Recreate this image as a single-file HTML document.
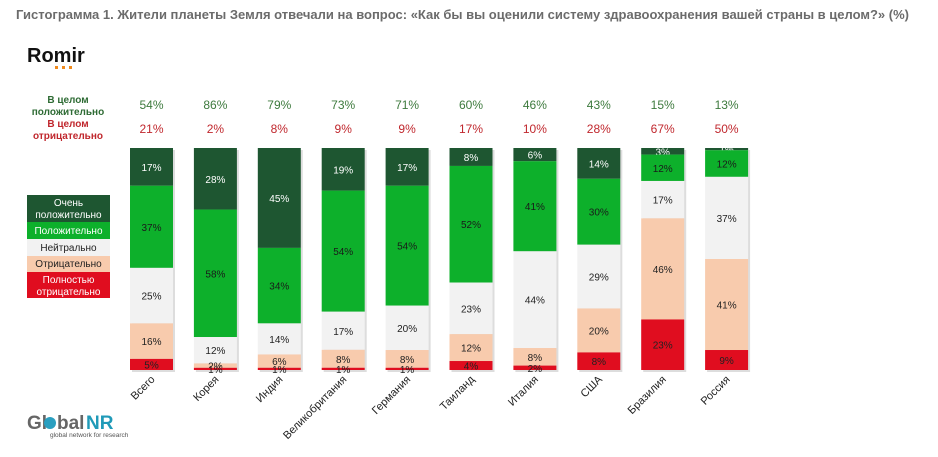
<!DOCTYPE html>
<html><head><meta charset="utf-8">
<style>
body{margin:0;background:#fff;font-family:"Liberation Sans",sans-serif;}
#wrap{position:relative;width:938px;height:457px;overflow:hidden;background:#fff;}
.title{position:absolute;left:16px;top:7px;font-size:13px;font-weight:bold;color:#6b6b6b;white-space:nowrap;}
</style></head>
<body>
<div id="wrap">
<div class="title">Гистограмма 1. Жители планеты Земля отвечали на вопрос: «Как бы вы оценили систему здравоохранения вашей страны в целом?» (%)</div>
<svg id="svg" width="938" height="457" style="position:absolute;left:0;top:0">
  <g>
    <text x="27" y="62" font-size="20" font-weight="bold" fill="#111" font-family="Liberation Sans">Romir</text>
    <rect x="55" y="66" width="3" height="3" fill="#f08a1c"/><rect x="62" y="66" width="3" height="3" fill="#f08a1c"/><rect x="69" y="66" width="3" height="3" fill="#f08a1c"/>
  </g>
  <g font-size="10" font-weight="bold" text-anchor="middle">
    <text x="68" y="103" fill="#2e6b34">В целом</text>
    <text x="68" y="115" fill="#2e6b34">положительно</text>
    <text x="68" y="127" fill="#c0272d">В целом</text>
    <text x="68" y="139" fill="#c0272d">отрицательно</text>
  </g>
  <g font-size="10" text-anchor="middle">
    <rect x="27" y="195" width="83" height="27" fill="#1e5631"/>
    <text x="68.5" y="206" fill="#fff">Очень</text><text x="68.5" y="218" fill="#fff">положительно</text>
    <rect x="27" y="222" width="83" height="17" fill="#0db02b"/>
    <text x="68.5" y="234" fill="#fff">Положительно</text>
    <rect x="27" y="239" width="83" height="17" fill="#f2f2f2"/>
    <text x="68.5" y="251" fill="#222">Нейтрально</text>
    <rect x="27" y="256" width="83" height="16" fill="#f8cbad"/>
    <text x="68.5" y="267" fill="#222">Отрицательно</text>
    <rect x="27" y="272" width="83" height="26" fill="#e00d1f"/>
    <text x="68.5" y="283" fill="#fff">Полностью</text><text x="68.5" y="295" fill="#fff">отрицательно</text>
  </g>
  <g id="bars"></g>
  <g>
    <text x="27" y="429" font-size="19" font-weight="bold" fill="#666">Gl</text>
    <circle cx="50" cy="423" r="6" fill="#2a9fc0"/>
    <text x="57" y="429" font-size="19" font-weight="bold" fill="#666">bal</text>
    <text x="86" y="429" font-size="19" font-weight="bold" fill="#1f9ab8">NR</text>
    <text x="50" y="437" font-size="6.5" fill="#555">global network for research</text>
  </g>
</svg>
</div>
<script>
const categories=["Всего","Корея","Индия","Великобритания","Германия","Таиланд","Италия","США","Бразилия","Россия"];
const veryPositive=[17,28,45,19,17,8,6,14,3,1];
const positive=[37,58,34,54,54,52,41,30,12,12];
const neutral=[25,12,14,17,20,23,44,29,17,37];
const negative=[16,2,6,8,8,12,8,20,46,41];
const veryNegative=[5,1,1,1,1,4,2,8,23,9];
const totalPositive=[54,86,79,73,71,60,46,43,15,13];
const totalNegative=[21,2,8,9,9,17,10,28,67,50];

const NS="http://www.w3.org/2000/svg";
const barsG=document.getElementById('bars');
const x0=130,step=63.9,bw=43,barTop=148,barBottom=370;
function xPos(i){return x0+i*step;}
function mk(t,a){const e=document.createElementNS(NS,t);for(const k in a)e.setAttribute(k,a[k]);return e;}
const series=[
 {v:veryPositive,c:"#1e5631",t:"#fff",n:"very-positive"},
 {v:positive,c:"#0db02b",t:"#1a1a1a",n:"positive"},
 {v:neutral,c:"#f2f2f2",t:"#222",n:"neutral"},
 {v:negative,c:"#f8cbad",t:"#222",n:"negative"},
 {v:veryNegative,c:"#e00d1f",t:"#222",n:"very-negative"}];
categories.forEach((cat,i)=>{
  const sum=series.reduce((s,se)=>s+se.v[i],0);
  const scale=(barBottom-barTop)/sum;
  const x=xPos(i);
  barsG.appendChild(mk('rect',{x:x+2,y:barTop+2,width:bw,height:barBottom-barTop,fill:'#bbb',opacity:0.5}));
  let y=barTop;
  series.forEach(se=>{
    const h=se.v[i]*scale;
    const r=mk('rect',{x:x,y:y,width:bw,height:h,fill:se.c});
    
    
    barsG.appendChild(r);
    const t=mk('text',{x:x+bw/2,y:y+h/2+4,'font-size':10,'text-anchor':'middle',fill:se.t});
    t.textContent=se.v[i]+'%';
    
    
    barsG.appendChild(t);
    y+=h;
  });
  const tp=mk('text',{x:x+bw/2,y:109,'font-size':12,'text-anchor':'middle',fill:'#3d7a3d'});
  tp.textContent=totalPositive[i]+'%';
  
  
  barsG.appendChild(tp);
  const tn=mk('text',{x:x+bw/2,y:133,'font-size':12,'text-anchor':'middle',fill:'#c0272d'});
  tn.textContent=totalNegative[i]+'%';
  
  
  barsG.appendChild(tn);
  const cx=x+bw/2+4,cy=380;
  const cl=mk('text',{x:cx,y:cy,'font-size':11,'text-anchor':'end',fill:'#222',transform:'rotate(-45 '+cx+' '+cy+')'});
  cl.textContent=cat;
  
  
  barsG.appendChild(cl);
});
</script>
</body></html>
